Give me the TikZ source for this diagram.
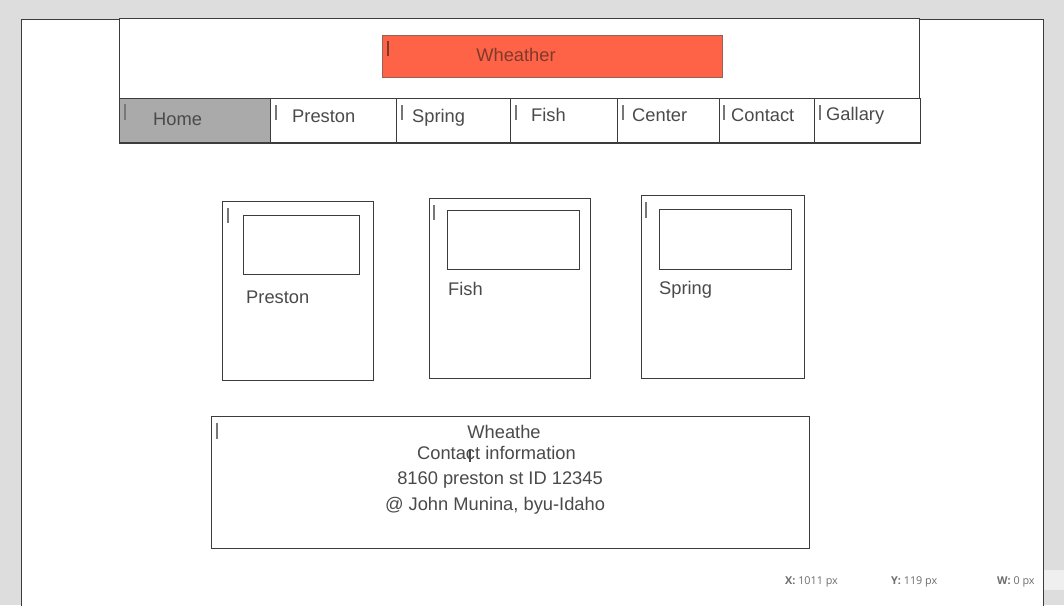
\documentclass[tikz,border=0pt]{standalone}
\usepackage{fontspec}
\setmainfont{Liberation Sans}
\newfontfamily\statusfont{Open Sans}
\definecolor{pagegray}{HTML}{DDDDDD}
\definecolor{stripgray}{HTML}{EFEFEF}
\definecolor{linegray}{HTML}{3C3C3C}
\definecolor{txtgray}{HTML}{4A4A4A}
\definecolor{tomatored}{HTML}{FF6347}
\definecolor{darkred}{HTML}{7D3A2C}
\definecolor{homegray}{HTML}{AAAAAA}
\definecolor{caretgray}{HTML}{777777}

\begin{document}
\begin{tikzpicture}[x=1pt,y=-1pt,
	box/.style={rectangle,draw=linegray,line width=1pt,fill=white,anchor=north west,inner sep=0pt,outer sep=0pt},
	lbl/.style={anchor=base west,inner sep=0pt,text=txtgray,font=\fontsize{18.3}{21}\selectfont},
	clbl/.style={anchor=base,inner sep=0pt,text=txtgray,font=\fontsize{18.3}{21}\selectfont},
	stat/.style={anchor=base west,inner sep=0pt,text=txtgray!80,font=\statusfont\fontsize{10.8}{12}\selectfont},
	caret/.style={draw=caretgray,line width=1.5pt}]
			
			% Background and page
			\fill[pagegray] (0,0) rectangle (1064,605);
			\useasboundingbox (0,0) rectangle (1064,605);
			\fill[stripgray] (1043,570) rectangle (1064,590);
			\node[box,minimum width=1022,minimum height=600] (page) at (21,19) {};
			
			% Header with title
			\node[box,minimum width=800,minimum height=80] (header) at (119,18) {};
			\node[box,fill=tomatored,draw=darkred!80,minimum width=340,minimum height=42] (titlebox) at (382,35) {};
			\node[clbl,text=darkred] (title) at (516,61.5) {Wheather};
			\draw[caret,draw=darkred] (388,41) -- (388,56);
			
			% Nav bar
			\node[box,fill=homegray,minimum width=151,minimum height=45] (navhome) at (119,98) {};
			\node[box,minimum width=126,minimum height=45] (navpreston) at (270,98) {};
			\node[box,minimum width=114,minimum height=45] (navspring) at (396,98) {};
			\node[box,minimum width=107,minimum height=45] (navfish) at (510,98) {};
			\node[box,minimum width=102,minimum height=45] (navcenter) at (617,98) {};
			\node[box,minimum width=95,minimum height=45] (navcontact) at (719,98) {};
			\node[box,minimum width=106,minimum height=45] (navgallary) at (814,98) {};
			\draw[linegray,line width=2pt] (navhome.south west) -- (navgallary.south east);
			
			\node[lbl] (home) at (153,125.5) {Home};
			\node[lbl] (preston) at (292,122.5) {Preston};
			\node[lbl] (spring) at (412,122.5) {Spring};
			\node[lbl] (fish) at (531,121.5) {Fish};
			\node[lbl] (center) at (632,121.5) {Center};
			\node[lbl] (contact) at (731,121.5) {Contact};
			\node[lbl] (gallary) at (826,120.5) {Gallary};
			
			\draw[caret] (125,104) -- (125,120);
			\draw[caret] (276,105) -- (276,120);
			\draw[caret] (402,105) -- (402,120);
			\draw[caret] (516,105) -- (516,120);
			\draw[caret] (623,105) -- (623,120);
			\draw[caret] (724,105) -- (724,120);
			\draw[caret] (820,105) -- (820,120);
			
			% Cards
			\node[box,minimum width=151,minimum height=179] (cardpreston) at (222,201) {};
			\node[box,minimum width=116,minimum height=59] (imgpreston) at (243,215) {};
			\node[lbl] (capreston) at (246,303.5) {Preston};
			\draw[caret] (228,208) -- (228,223);
			
			\node[box,minimum width=161,minimum height=180] (cardfish) at (429,198) {};
			\node[box,minimum width=132,minimum height=59] (imgfish) at (447,210) {};
			\node[lbl] (capfish) at (448,295.5) {Fish};
			\draw[caret] (434,205) -- (434,220);
			
			\node[box,minimum width=163,minimum height=183] (cardspring) at (641,195) {};
			\node[box,minimum width=132,minimum height=60] (imgspring) at (659,209) {};
			\node[lbl] (capspring) at (659,294.5) {Spring};
			\draw[caret] (646,202) -- (646,218);
			
			% Footer
			\node[box,minimum width=598,minimum height=132] (footer) at (211,416) {};
			\node[clbl] (footname) at (504,438.5) {Wheathe};
			\node[clbl] (footinfo) at (496.5,459) {Contact information};
			\node[clbl] (footaddr) at (500,484) {8160 preston st ID 12345};
			\node[clbl] (footcopy) at (495,510) {@ John Munina, byu-Idaho};
			\draw[caret] (217,423) -- (217,439);
			\draw[txtgray,line width=1.2pt] (470,449) -- (470,462);
			
			% Status bar
			\node[stat] (xpos) at (785,584) {\textbf{X:} 1011 px};
			\node[stat] (ypos) at (891,584) {\textbf{Y:} 119 px};
			\node[stat] (wsize) at (997,584) {\textbf{W:} 0 px};
			
		\end{tikzpicture}
\end{document}
